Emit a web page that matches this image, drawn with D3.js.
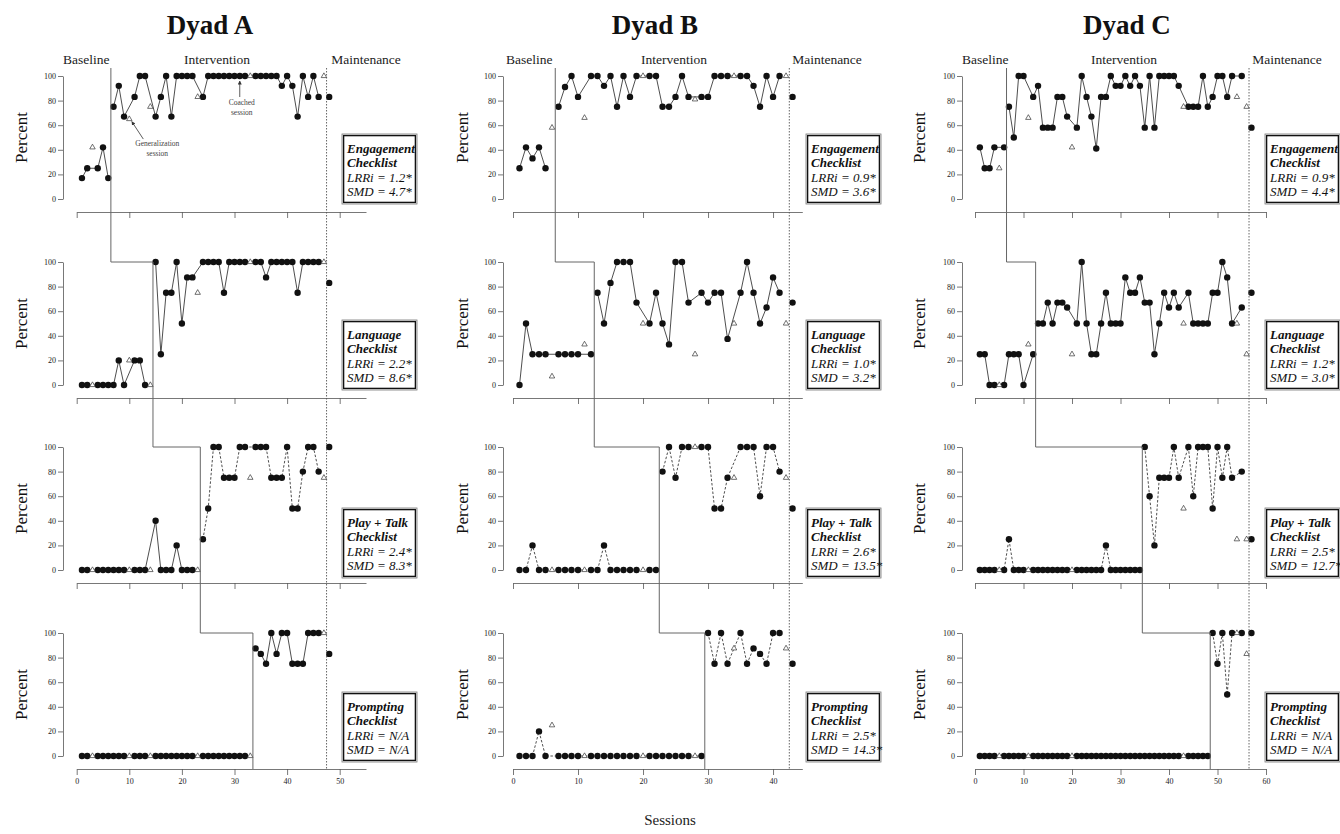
<!DOCTYPE html>
<html><head><meta charset="utf-8">
<script src="https://cdn.jsdelivr.net/npm/d3@7"></script>
<style>
body{margin:0;background:#fff}
svg{display:block}
text{font-family:"Liberation Serif","Times New Roman",serif}
</style>
</head><body>
<svg id="c" width="1340" height="834"></svg>
<script>
// ---------- DATA ----------
const dyadNames = ["Dyad A", "Dyad B", "Dyad C"];
const tierNames = ["Engagement", "Language", "Play + Talk", "Prompting"];
const phaseNames = ["Baseline", "Intervention", "Maintenance"];
const yTicks = [0, 20, 40, 60, 80, 100];
const xTicksA = [0, 10, 20, 30, 40, 50];
const xTicksB = [0, 10, 20, 30, 40];
const xTicksC = [0, 10, 20, 30, 40, 50, 60];

// generalization sessions (open triangles)
const genA = [3, 10, 14, 23, 33, 47];
const genB = [6, 11, 20, 28, 34, 42];
const genC = [5, 11, 20, 43, 54, 56];

// phase change points (baseline -> intervention) per tier, and maintenance start
const phaseA = [6.5, 14.5, 23.5, 33.5];
const phaseB = [6.5, 12.5, 22.5, 29.5];
const phaseC = [6.5, 12.5, 34.5, 48.5];
const maintA = 47.5, maintB = 42.5, maintC = 56.5;

// Dyad A (sessions 1..48)
const engageA = [17,25,42,25,42,17,75,92,67,65,83,100,100,75,67,83,100,67,100,100,
  100,100,83,83,100,100,100,100,100,100,100,100,100,100,100,100,100,100,92,100,
  92,67,100,83,100,83,100,83];
const langA = [0,0,0,0,0,0,0,20,0,20,20,20,0,0,100,25,75,75,100,50,
  87.5,87.5,75,100,100,100,100,75,100,100,100,100,100,100,100,87.5,100,100,100,100,
  100,75,100,100,100,100,100,83];
const playA = [0,0,0,0,0,0,0,0,0,0,0,0,0,0,40,0,0,0,20,0,
  0,0,0,25,50,100,100,75,75,75,100,100,75,100,100,100,75,75,75,100,
  50,50,80,100,100,80,75,100];
const promptA = [0,0,0,0,0,0,0,0,0,0,0,0,0,0,0,0,0,0,0,0,
  0,0,0,0,0,0,0,0,0,0,0,0,0,87.5,83,75,100,83,100,100,
  75,75,75,100,100,100,100,83];

// Dyad B (sessions 1..43)
const engageB = [25,42,33,42,25,58,75,91,100,83,66,100,100,92,100,75,100,83,100,100,
  100,100,75,75,83,100,83,81,83,83,100,100,100,100,100,100,92,75,100,83,
  100,100,83];
const langB = [0,50,25,25,25,7,25,25,25,25,33,25,75,50,83,100,100,100,67,50,
  50,75,50,33,100,100,67,25,75,67,75,75,37.5,50,75,100,75,50,63,87.5,
  75,50,67];
const playB = [0,0,20,0,0,0,0,0,0,0,0,0,0,20,0,0,0,0,0,0,
  0,0,80,100,75,100,100,100,100,100,50,50,75,75,100,100,100,60,100,100,
  80,75,50];
const promptB = [0,0,0,20,0,25,0,0,0,0,0,0,0,0,0,0,0,0,0,0,
  0,0,0,0,0,0,0,0,0,100,75,100,75,87.5,100,75,87.5,83,75,100,
  100,87.5,75];

// Dyad C (sessions 1..57)
const engageC = [42,25,25,42,25,42,75,50,100,100,66,83,92,58,58,58,83,83,67,42,
  58,100,83,67,41,83,83,100,92,92,100,92,100,92,58,100,58,100,100,100,
  100,92,75,75,75,75,100,75,83,100,100,83,100,83,100,75,58];
const langC = [25,25,0,0,0,0,25,25,25,0,33,25,50,50,67,50,67,67,63,25,
  50,100,50,25,25,50,75,50,50,50,87.5,75,75,87.5,67,67,25,50,75,63,
  75,63,50,75,50,50,50,50,75,75,100,87.5,50,50,63,25,75];
const playC = [0,0,0,0,0,0,25,0,0,0,0,0,0,0,0,0,0,0,0,0,
  0,0,0,0,0,0,20,0,0,0,0,0,0,0,100,60,20,75,75,75,
  100,75,50,100,60,100,100,100,50,100,75,100,75,25,80,25,25];
const promptC = [0,0,0,0,0,0,0,0,0,0,0,0,0,0,0,0,0,0,0,0,
  0,0,0,0,0,0,0,0,0,0,0,0,0,0,0,0,0,0,0,0,
  0,0,0,0,0,0,0,0,100,75,100,50,100,100,100,83,100];

const statsA = [["LRRi = 1.2*","SMD = 4.7*"],["LRRi = 2.2*","SMD = 8.6*"],["LRRi = 2.4*","SMD = 8.3*"],["LRRi = N/A","SMD = N/A"]];
const statsB = [["LRRi = 0.9*","SMD = 3.6*"],["LRRi = 1.0*","SMD = 3.2*"],["LRRi = 2.6*","SMD = 13.5*"],["LRRi = 2.5*","SMD = 14.3*"]];
const statsC = [["LRRi = 0.9*","SMD = 4.4*"],["LRRi = 1.2*","SMD = 3.0*"],["LRRi = 2.5*","SMD = 12.7*"],["LRRi = N/A","SMD = N/A"]];

const dyads = [
  {series:[engageA, langA, playA, promptA], gen:genA, phase:phaseA, maint:maintA, xticks:xTicksA, stats:statsA},
  {series:[engageB, langB, playB, promptB], gen:genB, phase:phaseB, maint:maintB, xticks:xTicksB, stats:statsB},
  {series:[engageC, langC, playC, promptC], gen:genC, phase:phaseC, maint:maintC, xticks:xTicksC, stats:statsC}
];

// ---------- LAYOUT ----------
const tierTop = [76, 262, 447, 633];
const tierH = 123;
const axisOff = 136;
const boxOff = [58, 58, 61, 59];
const layout = [
  {x0:76.7, x1:366, dmax:55, yAxis:63, box:342, title:210, pct:27, labels:[[63,"start"],[217,"middle"],[366,"middle"]]},
  {x0:513, x1:802.3, dmax:44.5, yAxis:503, box:806, title:655, pct:468, labels:[[506,"start"],[674,"middle"],[827,"middle"]]},
  {x0:975, x1:1266, dmax:60, yAxis:962, box:1265, title:1127, pct:925, labels:[[962,"start"],[1124,"middle"],[1287,"middle"]]}
];
// dashed line flags [baseline, intervention, maintenance]
const dashStyle = [
  [[0,0,0],[0,0,0],[0,1,0],[0,0,0]],
  [[0,0,0],[0,0,0],[1,1,0],[1,1,0]],
  [[0,0,0],[0,0,0],[1,1,0],[0,1,0]]
];

const svg = d3.select("#c");
const defs = svg.append("defs");
defs.append("marker").attr("id","ah").attr("viewBox","0 0 10 10").attr("refX",9).attr("refY",5)
  .attr("markerWidth",5).attr("markerHeight",5).attr("orient","auto-start-reverse")
  .append("path").attr("d","M0,0 L10,5 L0,10 z").attr("fill","#333");

const tri = d3.symbol().type(d3.symbolTriangle).size(13);

dyads.forEach((dy, di) => {
  const L = layout[di];
  const x = d3.scaleLinear().domain([0, L.dmax]).range([L.x0, L.x1]);

  // title
  svg.append("text").attr("x", L.title).attr("y", 34).attr("text-anchor","middle")
    .attr("font-size", 27).attr("font-weight","bold").attr("fill","#111").text(dyadNames[di]);
  // phase labels
  phaseNames.forEach((p, k) => {
    svg.append("text").attr("x", L.labels[k][0]).attr("y", 64).attr("text-anchor", L.labels[k][1])
      .attr("font-size", 13.5).attr("fill","#222").text(p);
  });

  dy.series.forEach((vals, ti) => {
    const T = tierTop[ti];
    const y = d3.scaleLinear().domain([0, 100]).range([T + tierH, T]);

    // y axis
    const gy = svg.append("g").attr("transform", `translate(${L.yAxis},0)`)
      .call(d3.axisLeft(y).tickValues(yTicks).tickSize(5).tickSizeOuter(0).tickPadding(2));
    // x axis
    const gx = svg.append("g").attr("transform", `translate(0,${T + axisOff})`)
      .call(d3.axisBottom(x).tickValues(dy.xticks).tickSize(6).tickSizeOuter(0).tickPadding(3)
        .tickFormat(ti === 3 ? d3.format("d") : () => ""));
    [gy, gx].forEach(g => {
      g.attr("font-family", "Liberation Serif, serif").attr("font-size", 8);
      g.selectAll("path,line").attr("stroke", "#555").attr("stroke-width", 0.8);
      g.selectAll("text").attr("fill", "#222");
    });

    // Percent label
    svg.append("text").attr("transform", `translate(${L.pct},${T + tierH / 2}) rotate(-90)`)
      .attr("text-anchor","middle").attr("font-size", 17).attr("fill","#111").text("Percent");

    // points
    const pts = vals.map((v, i) => ({s: i + 1, v: v, gen: dy.gen.includes(i + 1)}));
    const phaseOf = s => s < dy.phase[ti] ? 0 : (s < dy.maint ? 1 : 2);
    const line = d3.line().x(d => x(d.s)).y(d => y(d.v));
    [0, 1, 2].forEach(p => {
      const seg = pts.filter(d => !d.gen && phaseOf(d.s) === p);
      if (seg.length > 1) {
        svg.append("path").attr("d", line(seg)).attr("fill","none")
          .attr("stroke", "#3a3a3a").attr("stroke-width", 0.9)
          .attr("stroke-dasharray", dashStyle[di][ti][p] ? "2.5,1.8" : null);
      }
    });
    svg.append("g").selectAll("circle").data(pts.filter(d => !d.gen)).join("circle")
      .attr("cx", d => x(d.s)).attr("cy", d => y(d.v)).attr("r", 3.2).attr("fill", "#111");
    svg.append("g").selectAll("path").data(pts.filter(d => d.gen)).join("path")
      .attr("d", tri).attr("transform", d => `translate(${x(d.s)},${y(d.v)})`)
      .attr("fill","#fff").attr("stroke","#333").attr("stroke-width",0.7);

    // stats box
    const bx = L.box, by = T + boxOff[ti];
    const gb = svg.append("g").attr("transform", `translate(${bx},${by})`);
    gb.append("rect").attr("x",0).attr("y",0).attr("width",75).attr("height",70)
      .attr("fill","#fff").attr("stroke","#777").attr("stroke-width",0.8);
    gb.append("rect").attr("x",1.6).attr("y",1.6).attr("width",71.8).attr("height",66.8)
      .attr("fill","none").attr("stroke","#111").attr("stroke-width",1.4);
    const lines = [tierNames[ti], "Checklist", dy.stats[ti][0], dy.stats[ti][1]];
    lines.forEach((t, k) => {
      gb.append("text").attr("x", 5).attr("y", 19 + k * 14.3)
        .attr("font-size", 13).attr("font-style","italic")
        .attr("font-weight", k < 2 ? "bold" : "normal").attr("fill","#111").text(t);
    });
  });

  // phase change staircase
  const ph = dy.phase.map(p => x(p));
  let d = `M${ph[0]},68 V${tierTop[1]} H${ph[1]} V${tierTop[2]} H${ph[2]} V${tierTop[3]} H${ph[3]} V${tierTop[3] + axisOff}`;
  svg.append("path").attr("d", d).attr("fill","none").attr("stroke","#666").attr("stroke-width",1);
  // maintenance dotted line
  svg.append("line").attr("x1", x(dy.maint)).attr("x2", x(dy.maint)).attr("y1", 68).attr("y2", tierTop[3] + axisOff)
    .attr("stroke","#555").attr("stroke-width",0.9).attr("stroke-dasharray","1.5,1.5");

  // annotations (Dyad A only)
  if (di === 0) {
    const y1 = d3.scaleLinear().domain([0, 100]).range([tierTop[0] + tierH, tierTop[0]]);
    const gxp = x(10), gyp = y1(65);
    svg.append("line").attr("x1", gxp + 14).attr("y1", gyp + 20).attr("x2", gxp + 2.5).attr("y2", gyp + 2.5)
      .attr("stroke","#333").attr("stroke-width",0.8).attr("marker-end","url(#ah)");
    svg.append("text").attr("x", gxp + 28).attr("y", gyp + 27).attr("text-anchor","middle")
      .attr("font-size",7.5).attr("fill","#444").text("Generalization");
    svg.append("text").attr("x", gxp + 28).attr("y", gyp + 37).attr("text-anchor","middle")
      .attr("font-size",7.5).attr("fill","#444").text("session");
    const cxp = x(31), cyp = y1(100);
    svg.append("line").attr("x1", cxp).attr("y1", cyp + 21).attr("x2", cxp).attr("y2", cyp + 5)
      .attr("stroke","#333").attr("stroke-width",0.8).attr("marker-end","url(#ah)");
    svg.append("text").attr("x", cxp + 2).attr("y", cyp + 29).attr("text-anchor","middle")
      .attr("font-size",7.5).attr("fill","#444").text("Coached");
    svg.append("text").attr("x", cxp + 2).attr("y", cyp + 39).attr("text-anchor","middle")
      .attr("font-size",7.5).attr("fill","#444").text("session");
  }
});

svg.append("text").attr("x", 670).attr("y", 825).attr("text-anchor","middle")
  .attr("font-size", 15).attr("fill","#222").text("Sessions");
</script>
</body></html>
